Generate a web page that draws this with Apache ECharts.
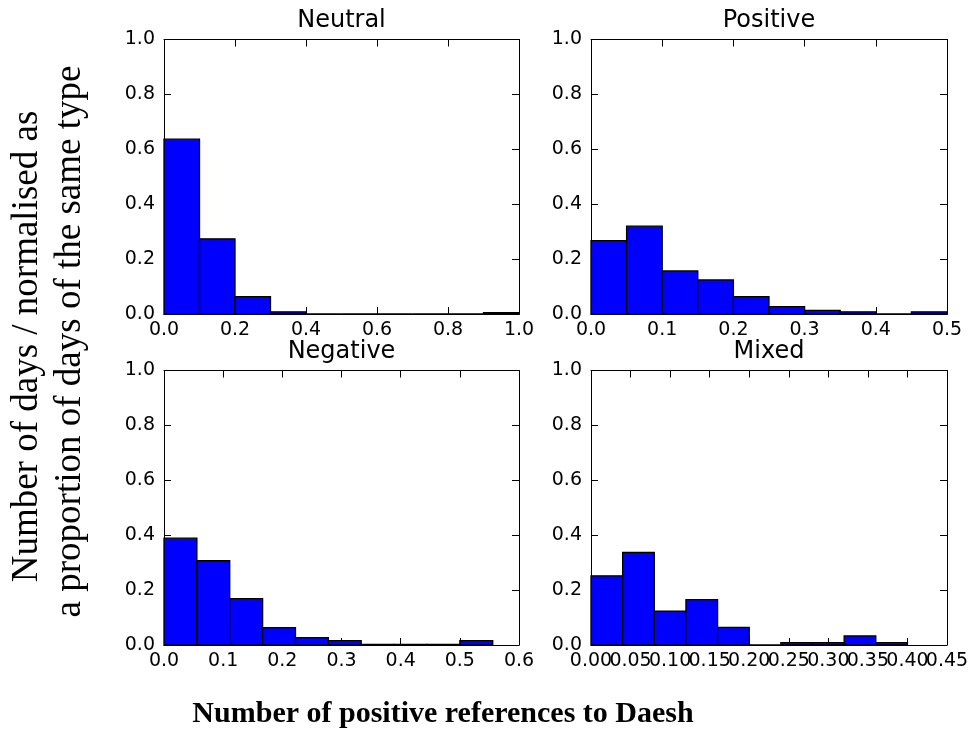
<!DOCTYPE html>
<html>
<head>
<meta charset="utf-8">
<script src="https://cdn.jsdelivr.net/npm/echarts@6/dist/echarts.min.js"></script>
<style>
  html, body { margin: 0; padding: 0; background: #fff; }
  #chart { width: 972px; height: 735px; }
</style>
</head>
<body>
<div id="chart"></div>
<script>
// Panel titles
const panelTitles = ['Neutral', 'Positive', 'Negative', 'Mixed'];

// Histogram bin edges (one more edge than bins) and normalised bin heights
const neutralEdges = [0.0, 0.1, 0.2, 0.3, 0.4, 0.5, 0.6, 0.7, 0.8, 0.9, 1.0];
const neutralHeights = [0.637, 0.274, 0.063, 0.008, 0, 0, 0, 0, 0, 0.005];

const positiveEdges = [0.0, 0.05, 0.10, 0.15, 0.20, 0.25, 0.30, 0.35, 0.40, 0.45, 0.50];
const positiveHeights = [0.267, 0.320, 0.157, 0.124, 0.063, 0.027, 0.013, 0.008, 0, 0.008];

const negativeEdges = [0.0, 0.0556, 0.1111, 0.1667, 0.2222, 0.2778, 0.3333, 0.3889, 0.4444, 0.5, 0.5556];
const negativeHeights = [0.389, 0.307, 0.169, 0.063, 0.027, 0.016, 0.002, 0.002, 0.002, 0.016];

const mixedEdges = [0.0, 0.04, 0.08, 0.12, 0.16, 0.20, 0.24, 0.28, 0.32, 0.36, 0.40];
const mixedHeights = [0.252, 0.337, 0.123, 0.165, 0.064, 0, 0.0085, 0.0085, 0.033, 0.0085];

// x-axis ranges, tick steps and label decimals per panel
const xMax = [1.0, 0.5, 0.6, 0.45];
const xStep = [0.2, 0.1, 0.1, 0.05];
const xDecimals = [1, 1, 1, 2];

// y-axis range shared by every panel
const yMin = 0.0, yMax = 1.0, yStep = 0.2;

const axisTitleY = ['Number of days / normalised as', 'a proportion of days of the same type'];
const axisTitleX = 'Number of positive references to Daesh';

const edgesList = [neutralEdges, positiveEdges, negativeEdges, mixedEdges];
const heightsList = [neutralHeights, positiveHeights, negativeHeights, mixedHeights];

// Plot-area boxes
const grids = [
  { left: 164, top: 39.5, width: 355, height: 274.5 },
  { left: 591, top: 39.5, width: 356, height: 274.5 },
  { left: 164, top: 370.5, width: 355, height: 274.5 },
  { left: 591, top: 370.5, width: 356, height: 274.5 }
];

const tickFont = 'DejaVu Sans';
const tickSize = 19;
const ink = '#000';

function histData(edges, heights) {
  return heights.map((h, i) => [edges[i], edges[i + 1], h]);
}

const xAxes = [], yAxes = [], series = [], graphics = [];

grids.forEach((g, i) => {
  const dec = xDecimals[i];
  const baseX = {
    type: 'value', gridIndex: i, min: 0, max: xMax[i], interval: xStep[i],
    splitLine: { show: false },
    axisLine: { show: true, onZero: false, lineStyle: { color: ink, width: 1 } },
    axisTick: { show: true, inside: true, length: 7, lineStyle: { color: ink, width: 1 } }
  };
  const labelStyle = {
    show: true, margin: 7, color: ink, fontFamily: tickFont, fontSize: tickSize,
    hideOverlap: false, showMinLabel: true, showMaxLabel: true
  };
  // The bottom labels are split across two axes (even / odd ticks) so that
  // crowded neighbours are all drawn and may run into each other.
  const xIndex = xAxes.length;
  xAxes.push(Object.assign({}, baseX, {
    position: 'bottom',
    axisLabel: Object.assign({}, labelStyle, {
      formatter: (v, idx) => (idx % 2 === 0 ? v.toFixed(dec) : '')
    })
  }));
  xAxes.push(Object.assign({}, baseX, {
    position: 'bottom',
    axisLine: { show: false },
    axisTick: { show: false },
    axisLabel: Object.assign({}, labelStyle, {
      formatter: (v, idx) => (idx % 2 === 1 ? v.toFixed(dec) : '')
    })
  }));
  xAxes.push(Object.assign({}, baseX, { position: 'top', axisLabel: { show: false } }));

  const baseY = {
    type: 'value', gridIndex: i, min: yMin, max: yMax, interval: yStep,
    splitLine: { show: false },
    axisLine: { show: true, onZero: false, lineStyle: { color: ink, width: 1 } },
    axisTick: { show: true, inside: true, length: 7, lineStyle: { color: ink, width: 1 } }
  };
  const yIndex = yAxes.length;
  yAxes.push(Object.assign({}, baseY, {
    position: 'left',
    axisLabel: {
      show: true, margin: 9, color: ink, fontFamily: tickFont, fontSize: tickSize,
      showMinLabel: true, showMaxLabel: true,
      formatter: v => v.toFixed(1)
    }
  }));
  yAxes.push(Object.assign({}, baseY, { position: 'right', axisLabel: { show: false } }));

  series.push({
    type: 'custom',
    xAxisIndex: xIndex,
    yAxisIndex: yIndex,
    data: histData(edgesList[i], heightsList[i]),
    encode: { x: [0, 1], y: 2 },
    silent: true,
    animation: false,
    renderItem: function (params, api) {
      const a = api.coord([api.value(0), api.value(2)]);
      const b = api.coord([api.value(1), 0]);
      return {
        type: 'rect',
        shape: { x: a[0], y: a[1], width: b[0] - a[0], height: b[1] - a[1] },
        style: { fill: '#0000ff', stroke: '#000', lineWidth: 1.3 }
      };
    }
  });

  // panel title, baseline about 10px above the frame
  graphics.push({
    type: 'text',
    x: g.left + g.width / 2,
    y: g.top - 18.3,
    style: {
      text: panelTitles[i], fill: ink, font: '24px "DejaVu Sans"',
      textAlign: 'center', textVerticalAlign: 'middle'
    }
  });
});

// shared y title, two centred lines reading bottom-to-top
graphics.push({
  type: 'text',
  x: 27.5, y: 346.5,
  rotation: Math.PI / 2,
  style: {
    text: axisTitleY[0], fill: ink,
    font: '37px "Liberation Serif"',
    textAlign: 'center', textVerticalAlign: 'middle'
  }
});
graphics.push({
  type: 'text',
  x: 70, y: 341.5,
  rotation: Math.PI / 2,
  style: {
    text: axisTitleY[1], fill: ink,
    font: '37px "Liberation Serif"',
    textAlign: 'center', textVerticalAlign: 'middle'
  }
});

graphics.push({
  type: 'text',
  x: 443, y: 714,
  style: {
    text: axisTitleX, fill: ink,
    font: 'bold 30px "Liberation Serif"',
    textAlign: 'center', textVerticalAlign: 'middle'
  }
});

const chart = echarts.init(document.getElementById('chart'), null, { renderer: 'canvas' });
chart.setOption({
  backgroundColor: '#fff',
  animation: false,
  grid: grids.map(g => Object.assign({ outerBoundsMode: 'none', containLabel: false }, g)),
  xAxis: xAxes,
  yAxis: yAxes,
  series: series,
  graphic: graphics
});
</script>
</body>
</html>
